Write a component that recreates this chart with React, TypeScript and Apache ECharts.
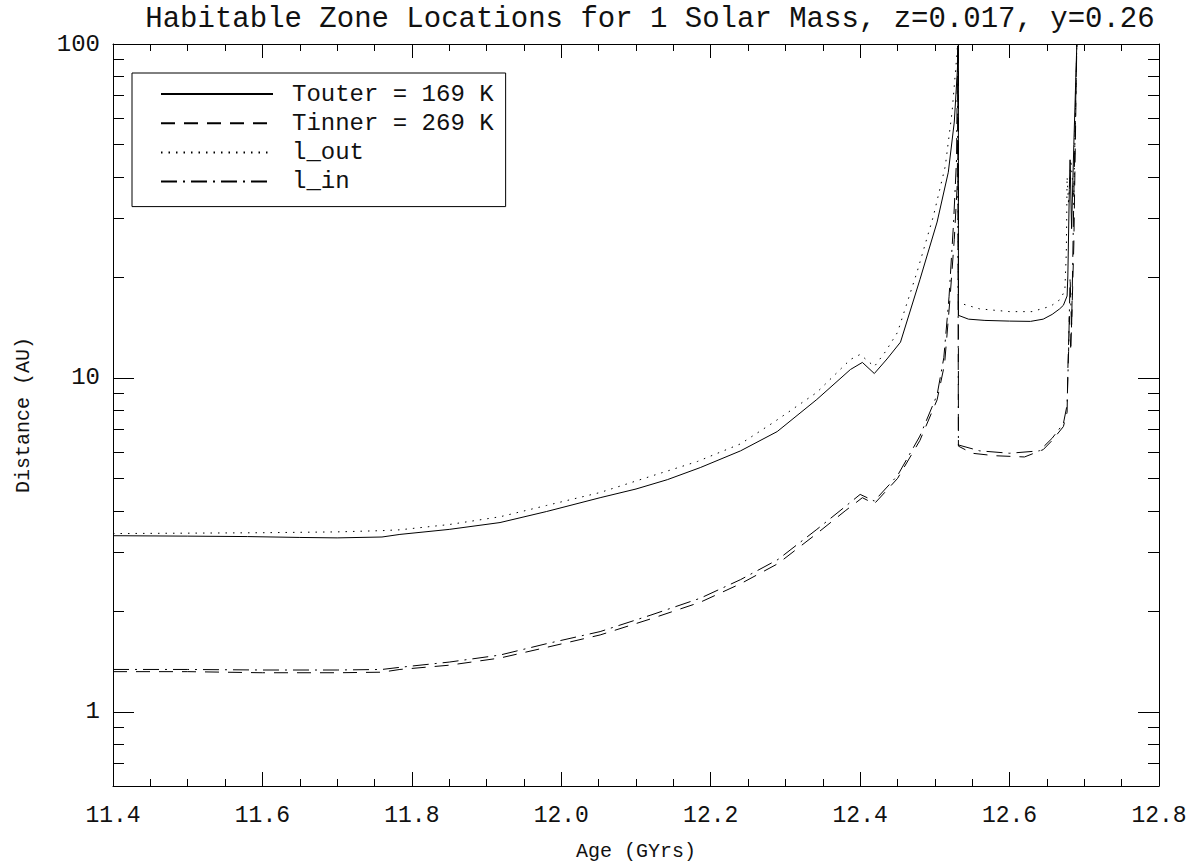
import React, { useEffect, useRef } from "react";
import * as echarts from "echarts";

const FONT = "'Liberation Mono', 'DejaVu Sans Mono', monospace";

const titleText = "Habitable Zone Locations for 1 Solar Mass, z=0.017, y=0.26";
const xName = "Age (GYrs)";
const yName = "Distance (AU)";

const yMajorTicks = [1, 10, 100];
const yMinorTicks = [0.7, 0.8, 0.9, 2, 3, 4, 5, 6, 7, 8, 9, 20, 30, 40, 50, 60, 70, 80, 90];

const seriesNames = ["Touter = 169 K", "Tinner = 269 K", "l_out", "l_in"];

const ageOuter = [11.40, 11.50, 11.58, 11.65, 11.70, 11.76, 11.784, 11.85, 11.918, 11.98, 12.052, 12.10, 12.142, 12.186, 12.24, 12.289, 12.342, 12.387, 12.403, 12.419, 12.436, 12.454, 12.480, 12.503, 12.518, 12.526, 12.530, 12.5315, 12.5315, 12.545, 12.567, 12.60, 12.628, 12.645, 12.657, 12.667, 12.672, 12.677, 12.678, 12.680, 12.681, 12.683, 12.686, 12.690];
const tOuter = [3.37, 3.36, 3.35, 3.33, 3.32, 3.34, 3.40, 3.52, 3.69, 3.98, 4.38, 4.65, 4.96, 5.39, 6.05, 6.91, 8.62, 10.6, 11.13, 10.31, 11.4, 12.8, 19.7, 29.3, 41.3, 58.4, 82.4, 100, 15.4, 15.0, 14.87, 14.8, 14.77, 15.0, 15.5, 16.1, 16.5, 17.6, 20.2, 36.7, 45, 28, 50, 100];

const ageInner = [11.40, 11.50, 11.60, 11.70, 11.76, 11.784, 11.85, 11.918, 11.98, 12.052, 12.12, 12.186, 12.24, 12.29, 12.342, 12.38, 12.403, 12.419, 12.45, 12.48, 12.503, 12.513, 12.520, 12.526, 12.530, 12.5315, 12.5315, 12.55, 12.58, 12.62, 12.645, 12.657, 12.672, 12.677, 12.678, 12.680, 12.682, 12.686, 12.690];
const tInner = [1.32, 1.32, 1.31, 1.31, 1.315, 1.34, 1.38, 1.45, 1.56, 1.70, 1.90, 2.13, 2.42, 2.78, 3.42, 4.0, 4.38, 4.2, 5.0, 6.5, 8.6, 11, 17, 26, 38, 100, 6.25, 5.95, 5.85, 5.80, 6.1, 6.5, 7.15, 7.9, 10.6, 15.3, 12, 25, 100];

const ageLout = [11.40, 11.50, 11.60, 11.70, 11.76, 11.784, 11.85, 11.918, 11.98, 12.052, 12.119, 12.182, 12.24, 12.284, 12.342, 12.387, 12.400, 12.419, 12.434, 12.450, 12.476, 12.498, 12.514, 12.523, 12.529, 12.5305, 12.5315, 12.56, 12.60, 12.63, 12.655, 12.668, 12.674, 12.676, 12.677, 12.679, 12.682, 12.686, 12.690];
const lOut = [3.42, 3.43, 3.44, 3.46, 3.49, 3.51, 3.64, 3.84, 4.15, 4.54, 5.07, 5.62, 6.35, 7.36, 9.05, 11.36, 11.76, 10.82, 12.0, 13.69, 20.7, 30.5, 43.1, 62.5, 90, 100, 16.8, 16.1, 15.8, 15.8, 16.4, 17.2, 18.3, 24, 40, 33, 45, 35, 100];

const ageLin = [11.40, 11.50, 11.60, 11.70, 11.76, 11.784, 11.85, 11.918, 11.98, 12.052, 12.12, 12.186, 12.24, 12.29, 12.342, 12.38, 12.400, 12.419, 12.45, 12.48, 12.503, 12.512, 12.519, 12.525, 12.529, 12.5305, 12.5315, 12.56, 12.60, 12.64, 12.657, 12.672, 12.677, 12.679, 12.681, 12.683, 12.686, 12.690];
const lIn = [1.34, 1.34, 1.335, 1.335, 1.34, 1.36, 1.41, 1.48, 1.60, 1.74, 1.95, 2.19, 2.49, 2.86, 3.52, 4.12, 4.48, 4.28, 5.1, 6.7, 8.9, 11.5, 17.5, 29, 45, 100, 6.3, 6.05, 5.95, 6.05, 6.6, 7.3, 8.3, 12, 20, 14, 35, 100];

const pairs = (xs: number[], ys: number[]) => xs.map((x, i) => [x, ys[i]]);

function makeOption(): any {
  const textBase = { fontFamily: FONT, color: "#111" };
  const xBase = (pos: string, labels: boolean) => ({
    type: "value",
    position: pos,
    min: 11.4,
    max: 12.8,
    interval: 0.2,
    axisLine: { show: true, onZero: false, lineStyle: { color: "#000", width: 1 } },
    axisTick: { show: true, inside: true, length: 14, lineStyle: { color: "#000", width: 1 } },
    minorTick: { show: true, splitNumber: 4, length: 7, lineStyle: { color: "#000", width: 1 } },
    splitLine: { show: false },
    minorSplitLine: { show: false },
    axisLabel: {
      show: labels,
      ...textBase,
      fontSize: 23,
      margin: 18,
      formatter: (v: number) => v.toFixed(1),
    },
  });
  const yBase = (pos: string, ticks: number[], len: number, line: boolean, labels: boolean) => ({
    type: "log",
    logBase: 10,
    position: pos,
    min: 0.6,
    max: 100,
    axisLine: { show: line, onZero: false, lineStyle: { color: "#000", width: 1 } },
    axisTick: { show: true, inside: true, length: len, customValues: ticks, lineStyle: { color: "#000", width: 1 } },
    minorTick: { show: false },
    splitLine: { show: false },
    axisLabel: {
      show: labels,
      customValues: yMajorTicks,
      ...textBase,
      fontSize: 24,
      margin: 13,
      formatter: (v: number) => String(Math.round(v)),
    },
  });

  const lineSeries = (name: string, data: number[][], type: any) => ({
    name,
    type: "line",
    data,
    symbol: "none",
    showSymbol: false,
    xAxisIndex: 0,
    yAxisIndex: 0,
    clip: true,
    silent: true,
    emphasis: { disabled: true },
    itemStyle: { color: "#000" },
    lineStyle: { color: "#000", width: 1, type },
  });

  return {
    animation: false,
    backgroundColor: "#fff",
    title: {
      text: titleText,
      left: 645,
      top: 0,
      textAlign: "center",
      textStyle: { ...textBase, fontSize: 29, fontWeight: "normal" },
    },
    grid: { left: 113, right: 39, top: 44, bottom: 80, containLabel: false },
    legend: {
      show: true,
      orient: "vertical",
      left: 132,
      top: 73,
      itemWidth: 112,
      itemHeight: 14,
      itemGap: 5.2,
      padding: [9, 12, 13, 28],
      borderColor: "#000",
      borderWidth: 1,
      borderRadius: 0,
      selectedMode: false,
      itemStyle: { color: "rgba(0,0,0,0)", borderColor: "rgba(0,0,0,0)", borderWidth: 0 },
      textStyle: { ...textBase, fontSize: 24, padding: [0, 0, 0, 14] },
      data: seriesNames,
    },
    xAxis: [
      { ...xBase("bottom", true), name: xName, nameLocation: "middle", nameGap: 55, nameTextStyle: { ...textBase, fontSize: 20 } },
      xBase("top", false),
    ],
    yAxis: [
      { ...yBase("left", yMajorTicks, 21, true, true), name: yName, nameLocation: "middle", nameGap: 80, nameTextStyle: { ...textBase, fontSize: 20 } },
      yBase("left", yMinorTicks, 11, false, false),
      yBase("right", yMajorTicks, 21, true, false),
      yBase("right", yMinorTicks, 11, false, false),
    ],
    series: [
      lineSeries(seriesNames[0], pairs(ageOuter, tOuter), "solid"),
      lineSeries(seriesNames[1], pairs(ageInner, tInner), [14, 9]),
      lineSeries(seriesNames[2], pairs(ageLout, lOut), [1.5, 6]),
      lineSeries(seriesNames[3], pairs(ageLin, lIn), [16, 6, 2, 6]),
    ],
  };
}

export default function App() {
  const ref = useRef<HTMLDivElement>(null);
  useEffect(() => {
    if (!ref.current) return;
    const chart = echarts.init(ref.current, null, { renderer: "svg" });
    chart.setOption(makeOption());
    return () => chart.dispose();
  }, []);
  return (
    <div
      ref={ref}
      style={{ position: "fixed", left: 0, top: 0, width: 1198, height: 866, background: "#fff" }}
    />
  );
}
